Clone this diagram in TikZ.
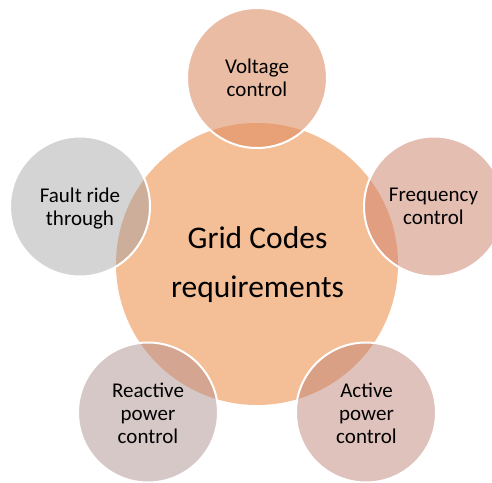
\documentclass[tikz,border=0pt]{standalone}
\usepackage{fontspec}
\setmainfont{Carlito}
\definecolor{cmain}{RGB}{244,190,150}
\definecolor{cvolt}{RGB}{235,188,164}
\definecolor{ovolt}{RGB}{232,160,118}
\definecolor{cfreq}{RGB}{229,190,178}
\definecolor{ofreq}{RGB}{225,158,128}
\definecolor{cfault}{RGB}{212,212,212}
\definecolor{ofault}{RGB}{205,174,155}
\definecolor{creac}{RGB}{215,200,200}
\definecolor{oreac}{RGB}{212,166,146}
\definecolor{cact}{RGB}{223,194,188}
\definecolor{oact}{RGB}{218,160,134}
\begin{document}
\begin{tikzpicture}[x=1pt,y=-1pt,
  hub/.style={circle, minimum size=282pt, inner sep=0pt, fill=cmain},
  spoke/.style={circle, minimum size=140pt, inner sep=0pt},
  ring/.style={draw=white, line width=2pt},
  small/.style={font=\fontsize{21}{23}\selectfont, align=center, anchor=base, inner sep=0pt},
  big/.style={font=\fontsize{31.5}{48.5}\selectfont, align=center, anchor=base, inner sep=0pt}]
\useasboundingbox (0,0) rectangle (492,482);
\node[hub] (hub) at (257,264) {};
% spokes
\node[spoke, fill=cvolt] (volt) at (257,78) {};
\node[spoke, fill=cfreq] (freq) at (434,206.5) {};
\node[spoke, fill=cfault] (fault) at (80,206.5) {};
\node[spoke, fill=creac] (reac) at (148,412.5) {};
\node[spoke, fill=cact] (act) at (366,412.5) {};
% overlaps
\begin{scope}
  \clip (hub.center) circle (141);
  \fill[ovolt] (volt.center) circle (70);
  \fill[ofreq] (freq.center) circle (70);
  \fill[ofault] (fault.center) circle (70);
  \fill[oreac] (reac.center) circle (70);
  \fill[oact] (act.center) circle (70);
\end{scope}
\draw[ring] (volt.center) circle (70);
\draw[ring] (freq.center) circle (70);
\draw[ring] (fault.center) circle (70);
\draw[ring] (reac.center) circle (70);
\draw[ring] (act.center) circle (70);
% texts (anchor base = last line)
\node[big] (hubT) at (257.5,297) {Grid Codes\\requirements};
\node[small] (voltT) at (257,96) {Voltage\\control};
\node[small] (freqT) at (433.5,224.3) {Frequency\\control};
\node[small] (faultT) at (80,225) {Fault ride\\through};
\node[small] (reacT) at (148,443) {Reactive\\power\\control};
\node[small] (actT) at (366.5,443) {Active\\power\\control};
\end{tikzpicture}
\end{document}
